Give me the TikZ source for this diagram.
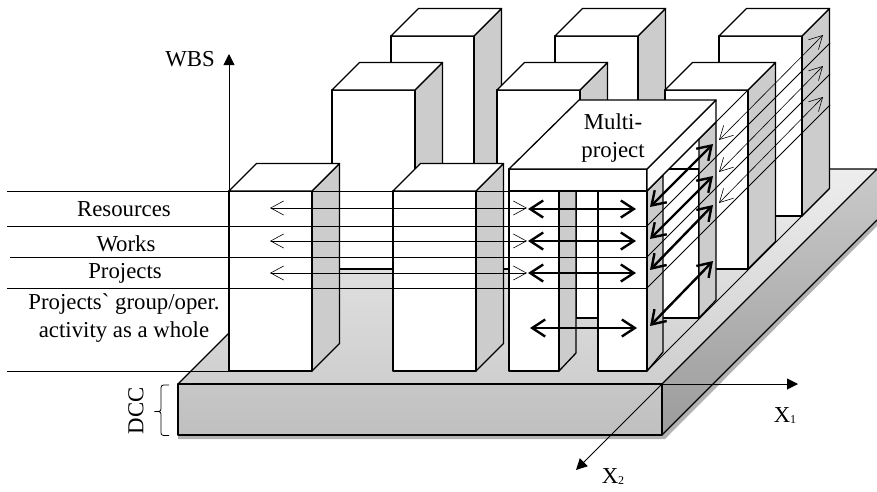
\documentclass[tikz,border=0pt]{standalone}
\usepackage{fontspec}
\setmainfont{Liberation Serif}
\usetikzlibrary{arrows.meta,positioning,calc}
\definecolor{barside}{RGB}{204,204,204}
\definecolor{plshadow}{RGB}{178,178,178}
\newcommand{\Xidx}[1]{X\raisebox{-1pt}{\fontsize{12}{12}\selectfont #1}}
% one prism: left x, top y, bottom y
\newcommand{\prism}[3]{
  \draw[barline, fill=barside] (#1+83,#2) -- (#1+110.5,#2-27.5) -- (#1+110.5,#3-27.5) -- (#1+83,#3) -- cycle;
  \draw[barline, fill=white] (#1,#2) rectangle (#1+83,#3);
  \draw[barline, fill=white] (#1,#2) -- (#1+27.5,#2-27.5) -- (#1+110.5,#2-27.5) -- (#1+83,#2) -- cycle;
}
\tikzset{
  barline/.style={black, line width=1.3pt, line join=round},
  lvl/.style={black, line width=0.95pt},
  thinarr/.style={{Straight Barb[length=13pt,width=14pt]}-{Straight Barb[length=13pt,width=14pt]}, line width=0.6pt},
  boldarr/.style={{Straight Barb[length=13pt,width=17pt]}-{Straight Barb[length=13pt,width=17pt]}, line width=2.4pt},
  axisarr/.style={-{Triangle[length=11pt,width=11pt]}, line width=0.95pt},
  lbl/.style={font=\fontsize{22.8}{27.7}\selectfont, align=center, inner sep=0pt},
}
\begin{document}
\begin{tikzpicture}[x=1pt,y=-1pt]
    \useasboundingbox (0,0) rectangle (877,491);
    % carrier plate
    \fill[plshadow] (178,435) -- (662,435) -- (877,220) -- (877,226) -- (665,439) -- (178,439) -- cycle;
    \shade[top color=black!7, bottom color=black!19] (178,384) -- (393,169) -- (877,169) -- (662,384) -- cycle;
    \shade[top color=black!21, bottom color=black!39] (662,384) -- (877,169) -- (877,220) -- (662,435) -- cycle;
    \shade[top color=black!22, bottom color=black!25] (178,384) rectangle (662,435);
    \draw[barline] (178,384) -- (393,169) -- (877,169) -- (662,384) -- cycle;
    \draw[barline] (178,384) rectangle (662,435);
    \draw[barline] (877,220) -- (662,435);
    % back rows
    \foreach \x in {391,555,719}{\prism{\x}{36}{216}}
    \foreach \x in {332,497,665}{\prism{\x}{90}{269}}
    \foreach \x in {229,393}{\prism{\x}{191}{371}}
    % multi-project block
    \draw[barline, fill=white] (576,169) rectangle (699,318);
    \draw[barline, fill=barside] (699,139) -- (716,122) -- (716,300) -- (699,318) -- cycle;
    \draw[barline, fill=barside] (559,191) -- (576,174) -- (576,353) -- (559,371) -- cycle;
    \draw[barline, fill=white] (509,191) rectangle (559,371);
    \draw[barline, fill=barside] (647,191) -- (663,175) -- (663,352) -- (647,371) -- cycle;
    \draw[barline, fill=white] (598,191) rectangle (647,371);
    \draw[barline, fill=white] (509,169) rectangle (647,191);
    \draw[barline, fill=white] (647,169) -- (716,100) -- (716,122) -- (647,191) -- cycle;
    \draw[barline, fill=white] (509,169) -- (579,100) -- (716,100) -- (647,169) -- cycle;
    % levels
    \foreach \y in {191,226,288}{\draw[lvl] (7,\y) -- (647,\y);}
    \draw[lvl] (10,257) -- (647,257);
    \draw[lvl] (7,371) -- (229,371);
    \draw[lvl] (647,191) -- (747,91);
    \foreach \y in {226,257,288}{\draw[lvl] (647,\y) -- (830,\y-183);}
    \draw[lvl] (647,371) -- (829,189);
    % axes
    \coordinate (org) at (229,191);
    \coordinate (wbstip) at (229,54);
    \coordinate (corner) at (662,384);
    \coordinate (xonetip) at (798,384);
    \coordinate (xtwotip) at (576,470);
    \draw[axisarr] (org) -- (wbstip);
    \draw[axisarr] (corner) -- (xonetip);
    \draw[axisarr] (corner) -- (xtwotip);
    % arrows
    \foreach \y in {208,241,273}{\draw[thinarr] (270,\y) -- (527,\y);}
    \foreach \a/\b in {140/35,172/66,203/97}{\draw[thinarr] (719,\a) -- (823,\b);}
    \foreach \y in {209,241,273}{\draw[boldarr] (528,\y) -- (636,\y);}
    \draw[boldarr] (530,328) -- (637,328);
    \foreach \a/\b in {207/144,239/176,270/205,326/261}{\draw[boldarr] (650,\a) -- (713,\b);}
    % brace
    \draw[black, line width=0.8pt, rounded corners=2.5pt] (169,385) -| (161,411.5) -- (153,411.5) -- (161,411.5) |- (169,435.5);
    % labels
    \node[lbl, anchor=base] (lres) at (124,216) {Resources};
    \node[lbl, anchor=base] (lwrk) at (126,251) {Works};
    \node[lbl, anchor=base] (lprj) at (125,278.5) {Projects};
    \node[lbl] (lgrp) at (124,318) {Projects\textasciigrave{} group/oper.\\activity as a whole};
    \node[lbl, anchor=base] (lwbs) at (190,66.5) {WBS};
    \node[lbl] (lmp) at (613,138) {Multi-\\project};
    \node[lbl, rotate=90] (ldcc) at (136,411) {DCC};
    \node[lbl, anchor=base] (lxone) at (785,422.5) {\Xidx{1}};
    \node[lbl, anchor=base] (lxtwo) at (613,483) {\Xidx{2}};
  \end{tikzpicture}
\end{document}
